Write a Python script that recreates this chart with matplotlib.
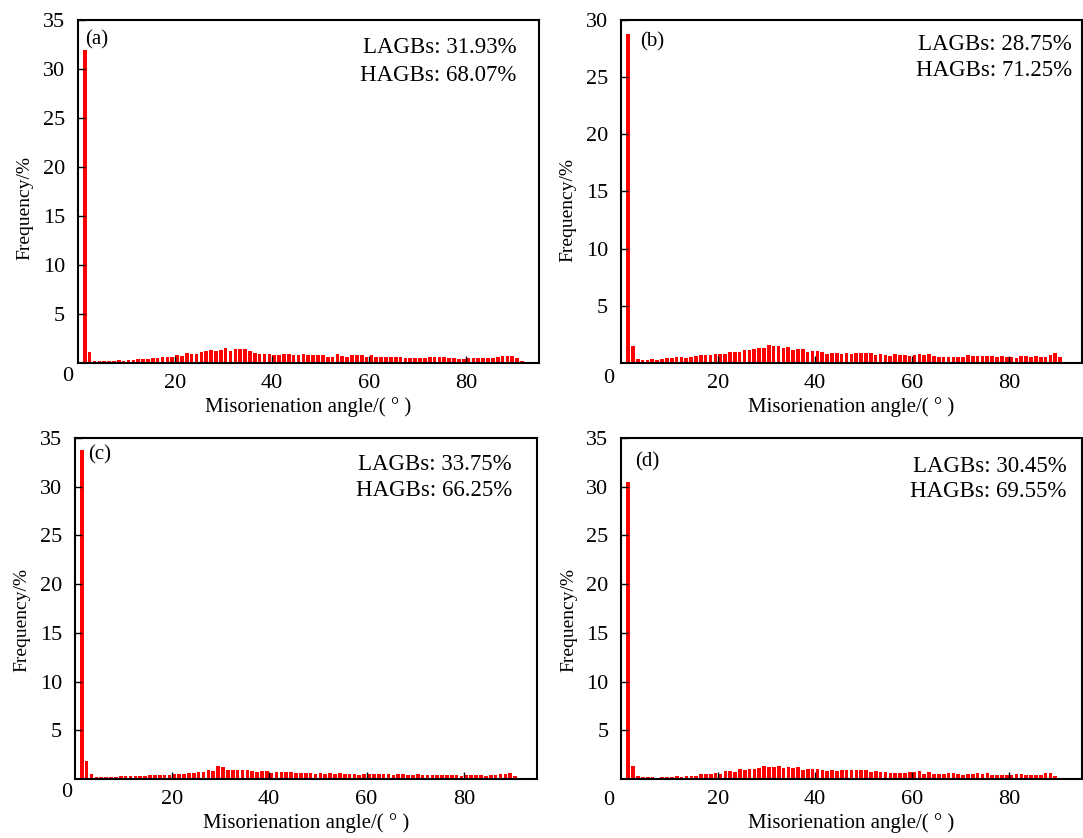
import numpy as np
from matplotlib import pyplot as plt

plt.rcParams['font.family'] = ['Liberation Serif', 'DejaVu Serif']

# misorientation angle histograms, 1 degree bins starting at 1 degree
freq_a = [31.93, 1.15, 0.25, 0.2, 0.2, 0.25, 0.2, 0.28, 0.25, 0.32,
          0.28, 0.38, 0.4, 0.38, 0.48, 0.5, 0.6, 0.65, 0.6, 0.78,
          0.7, 1.0, 0.92, 0.95, 1.1, 1.25, 1.3, 1.25, 1.3, 1.52,
          1.2, 1.38, 1.43, 1.42, 1.25, 0.98, 0.95, 0.95, 0.9, 0.85,
          0.8, 0.9, 0.95, 0.85, 0.78, 0.9, 0.85, 0.85, 0.85, 0.8,
          0.6, 0.58, 0.9, 0.7, 0.62, 0.85, 0.78, 0.78, 0.65, 0.8,
          0.6, 0.65, 0.65, 0.62, 0.6, 0.6, 0.55, 0.5, 0.5, 0.5,
          0.55, 0.6, 0.6, 0.65, 0.6, 0.5, 0.55, 0.45, 0.4, 0.5,
          0.52, 0.5, 0.5, 0.52, 0.5, 0.62, 0.75, 0.75, 0.75, 0.55,
          0.2]

freq_b = [28.75, 1.5, 0.38, 0.3, 0.25, 0.35, 0.3, 0.33, 0.4, 0.45,
          0.5, 0.5, 0.45, 0.55, 0.6, 0.7, 0.7, 0.7, 0.75, 0.78,
          0.8, 0.95, 0.92, 1.0, 1.15, 1.1, 1.2, 1.3, 1.3, 1.55,
          1.45, 1.5, 1.35, 1.4, 1.15, 1.2, 1.25, 1.0, 1.05, 1.05,
          1.0, 0.8, 0.85, 0.9, 0.8, 0.85, 0.78, 0.85, 0.9, 0.85,
          0.85, 0.7, 0.75, 0.72, 0.65, 0.75, 0.7, 0.72, 0.6, 0.72,
          0.75, 0.72, 0.75, 0.6, 0.5, 0.55, 0.55, 0.55, 0.5, 0.55,
          0.7, 0.65, 0.65, 0.65, 0.6, 0.62, 0.55, 0.6, 0.55, 0.52,
          0.45, 0.6, 0.6, 0.55, 0.62, 0.55, 0.55, 0.72, 0.85, 0.55,
          0.08, 0.08]

freq_c = [33.75, 1.8, 0.48, 0.25, 0.22, 0.25, 0.2, 0.18, 0.28, 0.28,
          0.28, 0.28, 0.3, 0.3, 0.38, 0.38, 0.4, 0.45, 0.42, 0.52,
          0.55, 0.55, 0.58, 0.6, 0.72, 0.7, 0.95, 0.85, 1.35, 1.2,
          0.95, 0.92, 0.9, 0.92, 0.9, 0.82, 0.7, 0.85, 0.82, 0.65,
          0.72, 0.68, 0.68, 0.68, 0.6, 0.62, 0.65, 0.6, 0.55, 0.62,
          0.55, 0.62, 0.55, 0.62, 0.55, 0.48, 0.5, 0.45, 0.55, 0.55,
          0.55, 0.52, 0.55, 0.5, 0.42, 0.5, 0.48, 0.42, 0.45, 0.48,
          0.45, 0.42, 0.4, 0.45, 0.42, 0.38, 0.45, 0.4, 0.35, 0.4,
          0.38, 0.4, 0.38, 0.32, 0.4, 0.42, 0.55, 0.55, 0.65, 0.3,
          0.1, 0.08, 0.08]

freq_d = [30.45, 1.37, 0.27, 0.18, 0.17, 0.17, 0.15, 0.17, 0.2, 0.25,
          0.27, 0.25, 0.3, 0.35, 0.3, 0.5, 0.55, 0.52, 0.6, 0.55,
          0.8, 0.78, 0.72, 0.98, 0.92, 1.0, 1.05, 1.1, 1.3, 1.25,
          1.25, 1.38, 1.15, 1.2, 1.1, 1.2, 0.95, 1.0, 1.05, 1.0,
          0.92, 0.85, 0.9, 0.85, 0.9, 0.92, 0.9, 0.92, 0.92, 0.95,
          0.75, 0.82, 0.72, 0.72, 0.62, 0.6, 0.6, 0.6, 0.72, 0.72,
          0.8, 0.55, 0.7, 0.5, 0.55, 0.55, 0.62, 0.62, 0.5, 0.45,
          0.48, 0.55, 0.65, 0.55, 0.62, 0.45, 0.45, 0.45, 0.45, 0.45,
          0.48, 0.48, 0.45, 0.45, 0.45, 0.42, 0.6, 0.6, 0.35, 0.15,
          0.05]

panel_labels = ['(a)', '(b)', '(c)', '(d)']
lagbs = ['31.93', '28.75', '33.75', '30.45']
hagbs = ['68.07', '71.25', '66.25', '69.55']
y_max = [35, 30, 35, 35]

# axes boxes in pixels: left, top, right, bottom
W, H = 1083, 838
boxes = [(77.5, 20, 539, 363),
         (620.7, 20, 1082, 363),
         (74.5, 438, 537, 779),
         (621, 438, 1082, 779)]

# text placement per panel (axes fractions)
label_pos = [(0.016, 0.942), (0.042, 0.936), (0.029, 0.95), (0.03, 0.93)]
text_x = [0.952, 0.978, 0.946, 0.967]
lagbs_y = [0.921, 0.93, 0.921, 0.915]
hagbs_y = [0.837, 0.854, 0.845, 0.842]
zero_pos = [(-0.021, -0.038), (-0.025, -0.044), (-0.016, -0.041), (-0.026, -0.062)]
ylabel_y = [0.452, 0.447, 0.466, 0.466]

fig = plt.figure(figsize=(W / 100, H / 100), dpi=100)

for i, freq in enumerate([freq_a, freq_b, freq_c, freq_d]):
    l, t, r, b = boxes[i]
    ax = fig.add_axes([l / W, 1 - b / H, (r - l) / W, (b - t) / H])

    centers = np.arange(len(freq)) + 1.5
    ax.bar(centers, freq, width=0.75, color='#ff0000')

    ax.set_xlim(0, 95)
    ax.set_ylim(0, y_max[i])
    ax.set_xticks([20, 40, 60, 80])
    ax.set_yticks(np.arange(5, y_max[i] + 1, 5))
    ax.tick_params(direction='in', length=5, width=1, labelsize=16,
                   top=False, right=False)
    ax.tick_params(axis='x', pad=8)
    ax.tick_params(axis='y', pad=9)
    for s in ax.spines.values():
        s.set_linewidth(1.5)

    # shared zero at the corner
    ax.text(zero_pos[i][0], zero_pos[i][1], '0', transform=ax.transAxes,
            fontsize=16, ha='center', va='center')

    ax.set_xlabel('Misorienation angle/( ° )', fontsize=15, labelpad=3)
    ax.set_ylabel('Frequency/%', fontsize=14)
    ax.yaxis.set_label_coords(-0.095, ylabel_y[i])

    ax.text(label_pos[i][0], label_pos[i][1], panel_labels[i],
            transform=ax.transAxes, fontsize=15, ha='left', va='center')
    ax.text(text_x[i], lagbs_y[i], 'LAGBs: ' + lagbs[i] + '%',
            transform=ax.transAxes, fontsize=16.5, ha='right', va='center')
    ax.text(text_x[i], hagbs_y[i], 'HAGBs: ' + hagbs[i] + '%',
            transform=ax.transAxes, fontsize=16.5, ha='right', va='center')

plt.savefig('out.png', dpi=100)
